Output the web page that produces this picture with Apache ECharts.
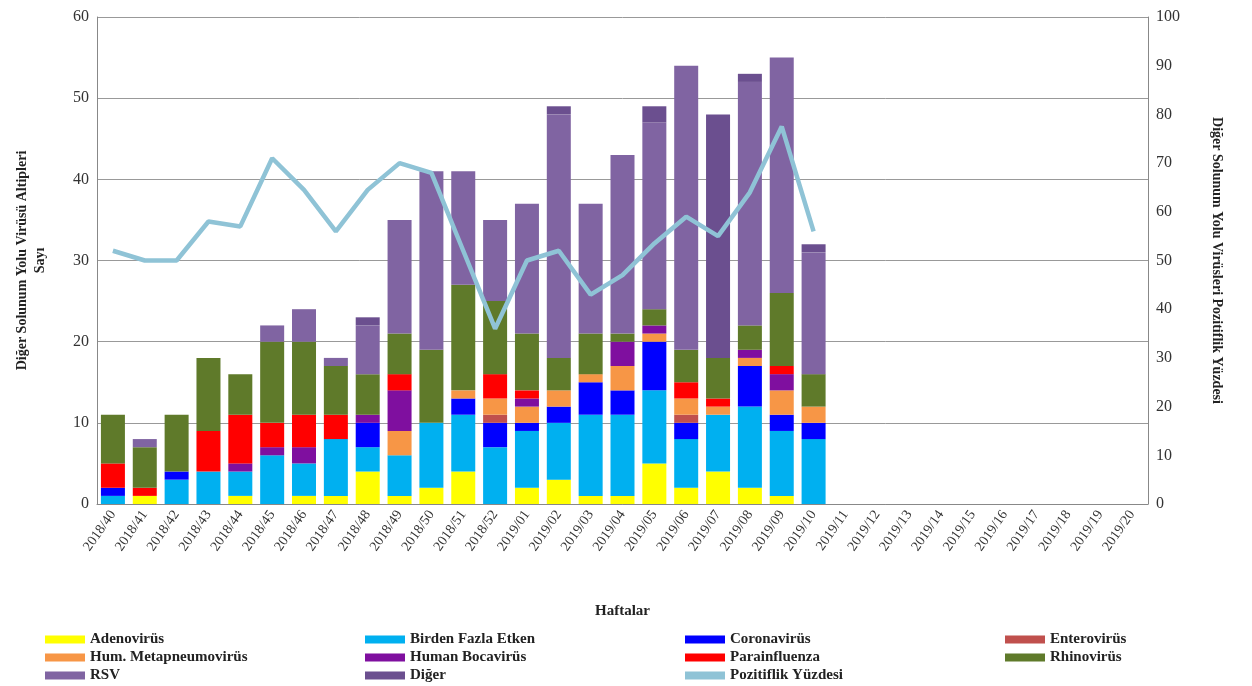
<!DOCTYPE html>
<html><head><meta charset="utf-8">
<script src="https://cdn.jsdelivr.net/npm/echarts@6/dist/echarts.min.js"></script>
<style>html,body{margin:0;background:#fff}#c{width:1252px;height:686px}</style>
</head><body><div id="c"></div>
<script>
// weeks
const weeks = ['2018/40','2018/41','2018/42','2018/43','2018/44','2018/45','2018/46','2018/47','2018/48','2018/49','2018/50','2018/51','2018/52',
  '2019/01','2019/02','2019/03','2019/04','2019/05','2019/06','2019/07','2019/08','2019/09','2019/10',
  '2019/11','2019/12','2019/13','2019/14','2019/15','2019/16','2019/17','2019/18','2019/19','2019/20'];
const adeno    = [0,1,0,0,1,0,1,1,4,1,2,4,0, 2,3,1,1,5,2,4,2,1,0];
const birden   = [1,0,3,4,3,6,4,7,3,5,8,7,7, 7,7,10,10,9,6,7,10,8,8];
const corona   = [1,0,1,0,0,0,0,0,3,0,0,2,3, 1,2,4,3,6,2,0,5,2,2];
const entero   = [0,0,0,0,0,0,0,0,0,0,0,0,1, 0,0,0,0,0,1,0,0,0,0];
const metap    = [0,0,0,0,0,0,0,0,0,3,0,1,2, 2,2,1,3,1,2,1,1,3,2];
const boca     = [0,0,0,0,1,1,2,0,1,5,0,0,0, 1,0,0,3,1,0,0,1,2,0];
const parainf  = [3,1,0,5,6,3,4,3,0,2,0,0,3, 1,0,0,0,0,2,1,0,1,0];
const rhino    = [6,5,7,9,5,10,9,6,5,5,9,13,9, 7,4,5,1,2,4,5,3,9,4];
const rsv      = [0,1,0,0,0,2,4,1,6,14,22,14,10, 16,30,16,22,23,35,0,30,29,15];
const diger    = [0,0,0,0,0,0,0,0,1,0,0,0,0, 0,1,0,0,2,0,30,1,0,1];
const pozitif  = [52,50,50,58,57,71,64.5,56,64.5,70,68,52,36, 50,52,43,47,53.5,59,55,64,77.5,56];

const serif = 'Liberation Serif';
const bars = [
  ['Adenovirüs', adeno, '#ffff00'],
  ['Birden Fazla Etken', birden, '#00b0f0'],
  ['Coronavirüs', corona, '#0000ff'],
  ['Enterovirüs', entero, '#c0504d'],
  ['Hum. Metapneumovirüs', metap, '#f79646'],
  ['Human Bocavirüs', boca, '#7f0f9f'],
  ['Parainfluenza', parainf, '#ff0000'],
  ['Rhinovirüs', rhino, '#5f7a2a'],
  ['RSV', rsv, '#8064a2'],
  ['Diğer', diger, '#6b4f8f']
];
const series = bars.map(([name, data, color]) => ({
  name, type: 'bar', stack: 'v', data, barWidth: 24,
  itemStyle: { color }
}));
series.push({
  name: 'Pozitiflik Yüzdesi', type: 'line', yAxisIndex: 1, data: pozitif,
  symbol: 'none', lineStyle: { color: '#8fc3d6', width: 4.5 }, itemStyle: { color: '#8fc3d6' }
});

// one legend per item, laid out in a 4-column grid
const names = series.map(s => s.name);
const colX = [40, 360, 680, 1000];
const legends = names.map((n, i) => ({
  data: [n], left: colX[i % 4], top: 627 + Math.floor(i / 4) * 18,
  itemWidth: 40, itemHeight: 8, icon: 'rect',
  textStyle: { fontFamily: serif, fontWeight: 'bold', fontSize: 15, color: '#222' }
}));

const chart = echarts.init(document.getElementById('c'));
chart.setOption({
  animation: false,
  textStyle: { fontFamily: serif },
  legend: legends,
  grid: { left: 97, right: 104, top: 17, bottom: 182 },
  xAxis: {
    type: 'category', data: weeks, name: 'Haftalar', nameLocation: 'middle', nameGap: 100,
    nameTextStyle: { fontFamily: serif, fontWeight: 'bold', fontSize: 15, color: '#222' },
    axisLine: { lineStyle: { color: '#888' } },
    axisTick: { lineStyle: { color: '#888' } },
    axisLabel: { rotate: 55, interval: 0, fontFamily: serif, fontSize: 14, color: '#333' }
  },
  yAxis: [{
    type: 'value', min: 0, max: 60, interval: 10,
    name: 'Diğer Solunum Yolu Virüsü Altipleri\nSayı', nameLocation: 'middle', nameGap: 48,
    nameTextStyle: { fontFamily: serif, fontWeight: 'bold', fontSize: 14, color: '#222', lineHeight: 18 },
    axisLine: { show: true, lineStyle: { color: '#888' } },
    axisLabel: { fontFamily: serif, fontSize: 16, color: '#333' },
    splitLine: { lineStyle: { color: '#999' } }
  }, {
    type: 'value', min: 0, max: 100, interval: 10,
    name: 'Diğer Solunum Yolu Virüsleri Pozitiflik Yüzdesi', nameLocation: 'middle', nameGap: 62,
    nameRotate: -90,
    nameTextStyle: { fontFamily: serif, fontWeight: 'bold', fontSize: 14, color: '#222' },
    axisLine: { show: true, lineStyle: { color: '#888' } },
    axisLabel: { fontFamily: serif, fontSize: 16, color: '#333' },
    splitLine: { show: false }
  }],
  series
});
</script></body></html>
